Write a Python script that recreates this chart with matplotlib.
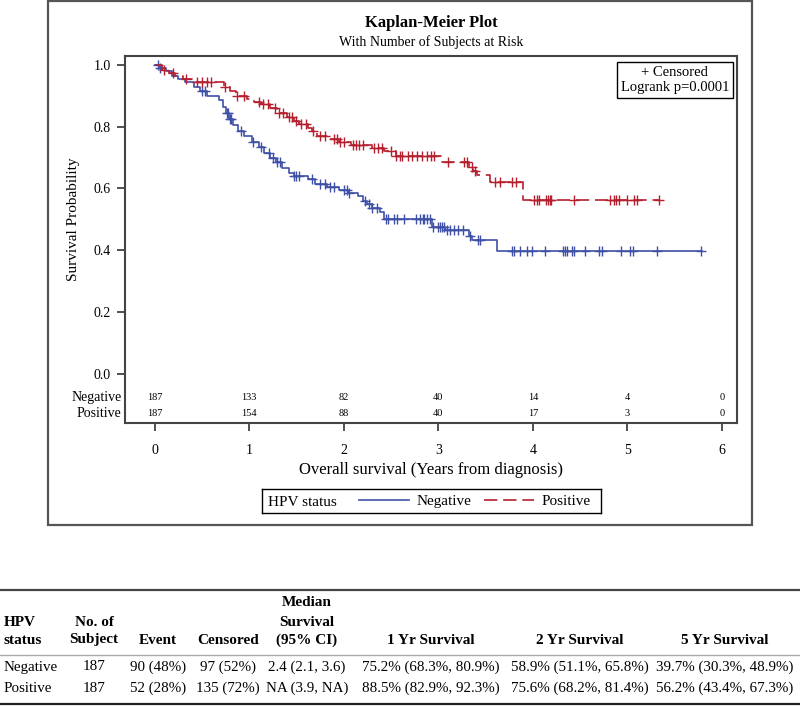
import numpy as np
import matplotlib.pyplot as plt
from matplotlib.patches import Rectangle
from matplotlib.lines import Line2D
from matplotlib.transforms import blended_transform_factory

plt.rcParams['font.family'] = ['Liberation Serif', 'DejaVu Serif']

# Kaplan-Meier steps (time in years, survival after the step)
neg_t = [0.0, 0.05, 0.12, 0.18, 0.25, 0.32, 0.42, 0.48, 0.55, 0.68, 0.72, 0.76, 0.79, 0.83,
         0.88, 0.95, 1.03, 1.10, 1.16, 1.22, 1.28, 1.35, 1.42, 1.47, 1.62, 1.70, 1.82, 1.95,
         2.05, 2.15, 2.20, 2.25, 2.30, 2.38, 2.43, 2.93, 3.07, 3.32, 3.36, 3.62]
neg_s = [1.0, 0.99, 0.98, 0.965, 0.955, 0.945, 0.93, 0.915, 0.90, 0.885, 0.865, 0.845, 0.825, 0.805,
         0.785, 0.77, 0.75, 0.735, 0.715, 0.70, 0.685, 0.665, 0.65, 0.64, 0.63, 0.615, 0.605, 0.595,
         0.585, 0.575, 0.56, 0.55, 0.535, 0.525, 0.50, 0.475, 0.466, 0.447, 0.434, 0.398]
neg_end = 5.79
neg_cens = [0.04, 0.06, 0.5, 0.53, 0.77, 0.78, 0.8, 0.81, 0.91, 1.04, 1.13, 1.21, 1.25, 1.3, 1.33,
            1.47, 1.5, 1.53, 1.67, 1.75, 1.8, 1.85, 1.9, 2.0, 2.03, 2.06, 2.22, 2.27, 2.3, 2.35,
            2.45, 2.47, 2.53, 2.56, 2.64, 2.76, 2.81, 2.84, 2.85, 2.88, 2.91, 2.94, 3.0, 3.02,
            3.04, 3.06, 3.09, 3.12, 3.17, 3.21, 3.26, 3.34, 3.42, 3.44, 3.78, 3.80, 3.86, 3.94,
            3.99, 4.13, 4.32, 4.34, 4.36, 4.41, 4.44, 4.55, 4.70, 4.73, 4.93, 5.03, 5.06, 5.31, 5.78]

pos_t = [0.0, 0.08, 0.15, 0.22, 0.30, 0.40, 0.73, 0.80, 0.86, 0.98, 1.05, 1.13, 1.22, 1.30, 1.40,
         1.47, 1.53, 1.62, 1.67, 1.72, 1.85, 1.95, 2.08, 2.30, 2.43, 2.55, 3.03, 3.33, 3.37, 3.41,
         3.55, 3.90]
pos_s = [1.0, 0.985, 0.975, 0.965, 0.955, 0.945, 0.93, 0.915, 0.90, 0.89, 0.88, 0.875, 0.86, 0.845, 0.83,
         0.82, 0.81, 0.795, 0.785, 0.77, 0.76, 0.75, 0.74, 0.73, 0.72, 0.705, 0.685, 0.67, 0.657, 0.645,
         0.62, 0.563]
pos_end = 5.33
pos_cens = [0.1, 0.2, 0.33, 0.45, 0.5, 0.55, 0.6, 0.75, 0.87, 0.95, 1.1, 1.15, 1.2, 1.27, 1.32, 1.36,
            1.42, 1.45, 1.5, 1.55, 1.6, 1.68, 1.75, 1.8, 1.9, 1.93, 1.96, 2.0, 2.1, 2.13, 2.16, 2.2,
            2.32, 2.36, 2.4, 2.5, 2.55, 2.6, 2.62, 2.68, 2.72, 2.78, 2.83, 2.88, 2.92, 2.95, 3.1,
            3.27, 3.3, 3.36, 3.39, 3.6, 3.65, 3.78, 3.82, 4.01, 4.04, 4.07, 4.14, 4.16, 4.18, 4.19,
            4.44, 4.82, 4.86, 4.88, 4.91, 5.0, 5.07, 5.10, 5.33]

risk_times = [0, 1, 2, 3, 4, 5, 6]
risk_neg = [187, 133, 82, 40, 14, 4, 0]
risk_pos = [187, 154, 88, 40, 17, 3, 0]

table_header = [["HPV", "status"], ["No. of", "Subject"], ["Event"], ["Censored"],
                ["Median", "Survival", "(95% CI)"], ["1 Yr Survival"], ["2 Yr Survival"], ["5 Yr Survival"]]
table_rows = [
    ["Negative", "187", "90 (48%)", "97 (52%)", "2.4 (2.1, 3.6)",
     "75.2% (68.3%, 80.9%)", "58.9% (51.1%, 65.8%)", "39.7% (30.3%, 48.9%)"],
    ["Positive", "187", "52 (28%)", "135 (72%)", "NA (3.9, NA)",
     "88.5% (82.9%, 92.3%)", "75.6% (68.2%, 81.4%)", "56.2% (43.4%, 67.3%)"],
]

blue = '#3F51A6'
red = '#B51F2E'
W, H = 800, 707

fig = plt.figure(figsize=(8, 7.07), dpi=100)


def fx(px):
    return px / W


def fy(py):
    return 1 - py / H


# outer frame around the plot
fig.patches.append(Rectangle((fx(48), fy(525)), fx(752) - fx(48), fy(1) - fy(525),
                             transform=fig.transFigure, fill=False, ec='#555555', lw=1.6))

ax = fig.add_axes([fx(125), fy(423), fx(737) - fx(125), fy(55.7) - fy(423)])


def km(ax, t, s, end, cens, color, ls):
    tt = list(t) + [end]
    ss = list(s) + [s[-1]]
    ax.plot(tt, ss, drawstyle='steps-post', color=color, lw=1.2, ls=ls)
    idx = np.searchsorted(t, cens, side='right') - 1
    ax.plot(cens, np.array(s)[idx], ls='none', marker='+', ms=7, mew=1.0, color=color)


km(ax, neg_t, neg_s, neg_end, neg_cens, blue, '-')
km(ax, pos_t, pos_s, pos_end, pos_cens, red, (0, (8, 3.5)))

ax.set_xlim(-0.312, 6.158)
ax.set_ylim(-0.160, 1.030)
ax.set_yticks([0, 0.2, 0.4, 0.6, 0.8, 1.0])
ax.set_yticklabels([f"{v:.1f}" for v in [0, 0.2, 0.4, 0.6, 0.8, 1.0]])
ax.set_xticks(risk_times)
ax.tick_params(axis='both', direction='out', length=6, width=1.2, labelsize=10, color='#333333')
ax.tick_params(axis='x', pad=9)
ax.tick_params(axis='y', pad=4)
for sp in ax.spines.values():
    sp.set_linewidth(1.5)
    sp.set_color('#444444')

# numbers at risk inside the frame
trans = blended_transform_factory(ax.transAxes, ax.transData)
for y, lab, vals in [(-0.076, "Negative", risk_neg), (-0.128, "Positive", risk_pos)]:
    ax.text(-0.006, y, lab, transform=trans, ha='right', va='center', fontsize=10)
    for t, v in zip(risk_times, vals):
        ax.text(t, y, str(v), ha='center', va='center', fontsize=7.5)

ax.text(0.987, 0.972, "+ Censored\nLogrank p=0.0001", transform=ax.transAxes, ha='right', va='top',
        fontsize=10.5, multialignment='center', linespacing=1.25,
        bbox=dict(boxstyle='square,pad=0.25', fc='white', ec='black', lw=1))

fig.text(ax.get_position().x0 + ax.get_position().width / 2, fy(23), "Kaplan-Meier Plot",
         ha='center', va='center', fontsize=12, fontweight='bold')
fig.text(ax.get_position().x0 + ax.get_position().width / 2, fy(42), "With Number of Subjects at Risk",
         ha='center', va='center', fontsize=10)
fig.text(fx(73), fy(219), "Survival Probability", rotation=90, ha='center', va='center', fontsize=11)
fig.text(fx(431), fy(470), "Overall survival (Years from diagnosis)", ha='center', va='center', fontsize=12)

# legend box below the plot
lax = fig.add_axes([fx(262), fy(513), fx(601) - fx(262), fy(489) - fy(513)])
lax.set_xticks([])
lax.set_yticks([])
for sp in lax.spines.values():
    sp.set_linewidth(1.0)
lax.text(0.018, 0.42, "HPV status", transform=lax.transAxes, ha='left', va='center', fontsize=11)
handles = [Line2D([], [], color=blue, lw=1.2), Line2D([], [], color=red, lw=1.2, ls=(0, (8, 3.5)))]
lax.legend(handles, ["Negative", "Positive"], ncol=2, loc='center left', bbox_to_anchor=(0.285, 0.5),
           frameon=False, fontsize=11, handlelength=3.3, handletextpad=0.5, columnspacing=0.8,
           borderpad=0, borderaxespad=0)

# summary table
col_x = [4, 94, 158, 228, 307, 431, 580, 725]
header_lines_y = [603, 622, 640]
row_y = [667, 688]

fig.add_artist(Line2D([0, 1], [fy(590), fy(590)], transform=fig.transFigure, color='#444444', lw=1.6))
fig.add_artist(Line2D([0, 1], [fy(655), fy(655)], transform=fig.transFigure, color='#aaaaaa', lw=1.0))
fig.add_artist(Line2D([0, 1], [fy(704), fy(704)], transform=fig.transFigure, color='#222222', lw=1.6))

for i, (x, lines) in enumerate(zip(col_x, table_header)):
    ys = header_lines_y[-len(lines):]
    for txt, y in zip(lines, ys):
        fig.text(fx(x), fy(y), txt, ha='left' if i == 0 else 'center', va='center',
                 fontsize=11, fontweight='bold')
for row, y in zip(table_rows, row_y):
    for i, (x, txt) in enumerate(zip(col_x, row)):
        fig.text(fx(x), fy(y), txt, ha='left' if i == 0 else 'center', va='center', fontsize=10.8)

fig.savefig("out.png", dpi=100)
